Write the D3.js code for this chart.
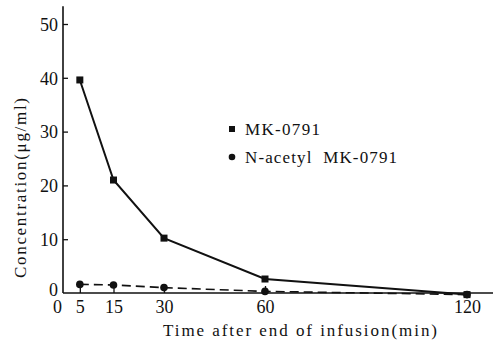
<!DOCTYPE html>
<html>
<head>
<meta charset="utf-8">
<script src="https://cdn.jsdelivr.net/npm/d3@7"></script>
<style>
  body { margin: 0; background: #fff; }
</style>
</head>
<body>
<svg id="svg" width="493" height="344"></svg>
<script>
const svg = d3.select("#svg");
const FONT = '"Liberation Serif", "Times New Roman", serif';

// minutes after end of infusion
const times = [5, 15, 30, 60, 120];
const mk0791 = [39.6, 21.0, 10.2, 2.6, -0.3];
const nAcetyl = [1.6, 1.5, 1.0, 0.3, -0.3];
const xTicks = [0, 5, 15, 30, 60, 120];
const yTicks = [0, 10, 20, 30, 40, 50];

const x = d3.scaleLinear().domain([0, 120]).range([63, 467]);
const y = d3.scaleLinear().domain([0, 50]).range([293, 24]);

// y axis, ticks pointing inward
const yAxis = svg
  .append("g")
  .attr("transform", `translate(${x(0)},0)`)
  .call(d3.axisLeft(y).tickValues(yTicks).tickSize(-5).tickPadding(5));
yAxis.attr("font-family", null);
yAxis.select(".domain").remove();
yAxis.selectAll("line").attr("stroke", "#111").attr("stroke-width", 1.3);
yAxis
  .selectAll("text")
  .style("font-family", FONT)
  .style("font-size", "18px")
  .attr("fill", "#111")
  .attr("dy", "0.35em");
yAxis.selectAll(".tick").filter((d) => d === 0).select("line").remove();
yAxis.selectAll(".tick").filter((d) => d === 0).select("text").attr("dy", "0.15em");

svg
  .append("line")
  .attr("x1", x(0))
  .attr("x2", x(0))
  .attr("y1", y(0))
  .attr("y2", y(53.3))
  .attr("stroke", "#111")
  .attr("stroke-width", 1.6);

// x axis, ticks pointing up
const xAxis = svg
  .append("g")
  .attr("transform", `translate(0,${y(0)})`)
  .call(d3.axisBottom(x).tickValues(xTicks).tickSize(-7).tickPadding(3));
xAxis.attr("font-family", null);
xAxis.select(".domain").remove();
xAxis.selectAll("line").attr("stroke", "#111").attr("stroke-width", 1.3);
xAxis
  .selectAll("text")
  .style("font-family", FONT)
  .style("font-size", "18px")
  .attr("fill", "#111")
  .attr("dy", "0.95em");
xAxis.selectAll(".tick").filter((d) => d === 0).select("line").remove();
xAxis.selectAll(".tick").filter((d) => d === 0).select("text").attr("x", -6);
xAxis.selectAll(".tick").filter((d) => d === 120).select("line").remove();

svg
  .append("line")
  .attr("x1", x(0))
  .attr("x2", 493)
  .attr("y1", y(0))
  .attr("y2", y(0))
  .attr("stroke", "#111")
  .attr("stroke-width", 1.6);

// axis titles
svg
  .append("text")
  .attr("x", 163)
  .attr("y", 336)
  .attr("textLength", 274)
  .style("font-family", FONT)
  .style("font-size", "17px")
  .attr("fill", "#111")
  .text("Time after end of infusion(min)");

svg
  .append("text")
  .attr("transform", "translate(26,278) rotate(-90)")
  .attr("textLength", 180)
  .style("font-family", FONT)
  .style("font-size", "17px")
  .attr("fill", "#111")
  .text("Concentration(μg/ml)");

const line = d3
  .line()
  .x((d) => x(d[0]))
  .y((d) => y(d[1]));

const mkPts = times.map((t, i) => [t, mk0791[i]]);
const naPts = times.map((t, i) => [t, nAcetyl[i]]);

svg
  .append("path")
  .datum(naPts)
  .attr("d", line)
  .attr("fill", "none")
  .attr("stroke", "#111")
  .attr("stroke-width", 1.6)
  .attr("stroke-dasharray", "9,5");

svg
  .append("path")
  .datum(mkPts)
  .attr("d", line)
  .attr("fill", "none")
  .attr("stroke", "#111")
  .attr("stroke-width", 2);

svg
  .append("g")
  .selectAll("circle")
  .data(naPts)
  .join("circle")
  .attr("cx", (d) => x(d[0]))
  .attr("cy", (d) => y(d[1]))
  .attr("r", 3.8)
  .attr("fill", "#111");

svg
  .append("g")
  .selectAll("rect")
  .data(mkPts)
  .join("rect")
  .attr("x", (d) => x(d[0]) - 3.5)
  .attr("y", (d) => y(d[1]) - 3.5)
  .attr("width", 7)
  .attr("height", 7)
  .attr("fill", "#111");

// legend
svg.append("rect").attr("x", 229).attr("y", 126).attr("width", 6).attr("height", 6).attr("fill", "#111");
svg
  .append("text")
  .attr("x", 245)
  .attr("y", 135)
  .attr("textLength", 75)
  .style("font-family", FONT)
  .style("font-size", "17px")
  .attr("fill", "#111")
  .text("MK-0791");

svg.append("circle").attr("cx", 232).attr("cy", 157).attr("r", 3.3).attr("fill", "#111");
svg
  .append("text")
  .attr("x", 245)
  .attr("y", 163)
  .attr("textLength", 152)
  .style("font-family", FONT)
  .style("font-size", "17px")
  .style("white-space", "pre")
  .attr("fill", "#111")
  .text("N-acetyl  MK-0791");
</script>
</body>
</html>
